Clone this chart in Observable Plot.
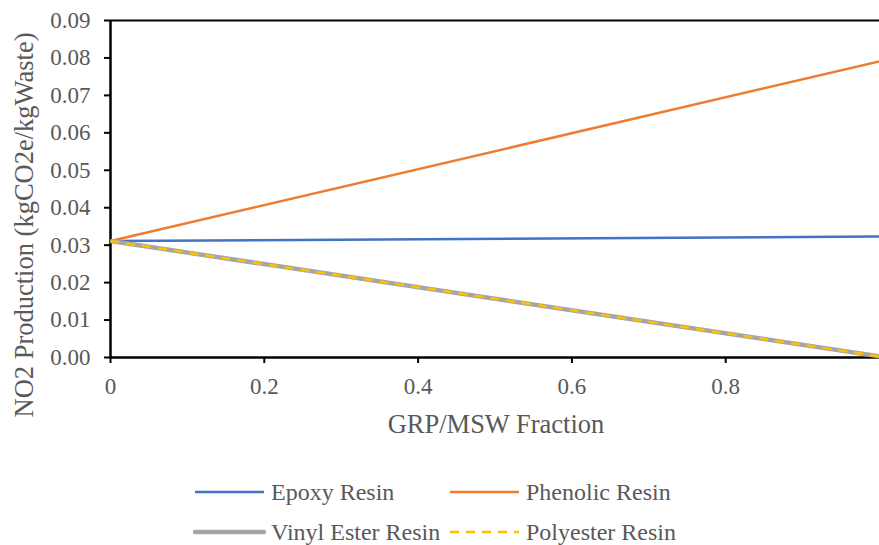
<!DOCTYPE html>
<html><head><meta charset="utf-8">
<script src="https://cdn.jsdelivr.net/npm/d3@7"></script>
<script src="https://cdn.jsdelivr.net/npm/@observablehq/plot@0.6"></script>
<style>
body{margin:0;background:#fff}
#chart svg, #chart svg text { font-family: "Liberation Serif", "Times New Roman", serif !important; }
</style>
</head><body><div id="chart"></div>
<script>
const seriesNames = ["Epoxy Resin", "Phenolic Resin", "Vinyl Ester Resin", "Polyester Resin"];
const fractions = [0, 1];
const epoxy = [0.0311, 0.0323];
const phenolic = [0.0311, 0.0791];
const vinylEster = [0.0311, 0.0003];
const polyester = [0.0311, 0.0003];
const xTicks = [0, 0.2, 0.4, 0.6, 0.8];
const yTicks = [0, 0.01, 0.02, 0.03, 0.04, 0.05, 0.06, 0.07, 0.08, 0.09];
const colors = ["#4472C4", "#ED7D31", "#A5A5A5", "#FFC000"];
const widths = [2.5, 2.5, 4.5, 2.5];
const dashes = [null, null, null, "9,7"];

const valuesBySeries = [epoxy, phenolic, vinylEster, polyester];
const rows = seriesNames.map((s, i) => fractions.map((f, j) => ({series: s, x: f, y: valuesBySeries[i][j]})));

const textColor = "#595959";

const W = 879, H = 545;
const plot = Plot.plot({
  width: W, height: H,
  marginLeft: 110, marginRight: 0, marginTop: 20, marginBottom: 188,
  style: {background: "#fff", color: textColor},
  x: {domain: [0, 1]},
  y: {domain: [0, 0.09]},
  marks: [
    Plot.ruleY([0.09], {stroke: "#000", strokeWidth: 2}),
    Plot.axisX({ticks: xTicks, tickFormat: d => d === 0 ? "0" : String(d), tickSize: 6, tickPadding: 14,
      fontSize: 23, stroke: "#000", strokeWidth: 2, strokeOpacity: 1, fill: textColor, label: null}),
    Plot.axisY({ticks: yTicks, tickFormat: d => d.toFixed(2), tickSize: 6, tickPadding: 14,
      fontSize: 23, stroke: "#000", strokeWidth: 2, strokeOpacity: 1, fill: textColor, label: null}),
    Plot.ruleX([0], {stroke: "#000", strokeWidth: 2.5}),
    Plot.ruleY([0], {stroke: "#000", strokeWidth: 2.5}),
    ...rows.map((r, i) => Plot.line(r, {x: "x", y: "y", stroke: colors[i], strokeWidth: widths[i],
      strokeDasharray: dashes[i] ?? undefined, strokeLinecap: "butt"}))
  ]
});

const svg = d3.select(plot);
svg.append("text").text("GRP/MSW Fraction")
  .attr("x", 496).attr("y", 433).attr("text-anchor", "middle")
  .attr("font-size", 26.5).attr("fill", textColor);
svg.append("text").text("NO2 Production (kgCO2e/kgWaste)")
  .attr("transform", "translate(33,225) rotate(-90)").attr("text-anchor", "middle")
  .attr("font-size", 26.5).attr("fill", textColor);

// legend
const legendPos = [[195, 492], [450, 492], [195, 532], [450, 532]];
seriesNames.forEach((s, i) => {
  const [lx, ly] = legendPos[i];
  const g = svg.append("g");
  g.append("line").attr("x1", lx).attr("x2", lx + 69).attr("y1", ly).attr("y2", ly)
    .attr("stroke", colors[i]).attr("stroke-width", widths[i])
    .attr("stroke-dasharray", dashes[i]).attr("stroke-linecap", i === 2 ? "round" : "butt");
  g.append("text").text(s).attr("x", lx + 76).attr("y", ly + 7.5).attr("text-anchor", "start")
    .attr("font-size", 24).attr("fill", textColor);
});

document.getElementById("chart").appendChild(plot);
</script>
</body></html>
